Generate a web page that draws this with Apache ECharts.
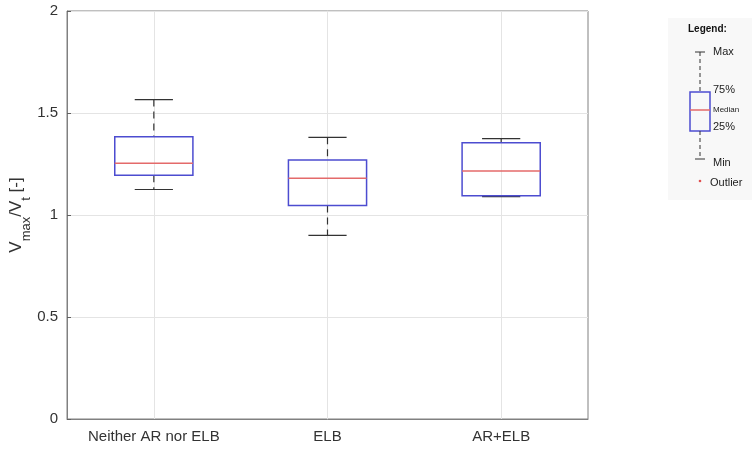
<!DOCTYPE html>
<html>
<head>
<meta charset="utf-8">
<script src="https://cdn.jsdelivr.net/npm/echarts@6/dist/echarts.min.js"></script>
<style>html,body{margin:0;padding:0;background:#fff}#c{width:752px;height:450px}</style>
</head>
<body>
<div id="c"></div>
<script>
const categories = ['Neither AR nor ELB', 'ELB', 'AR+ELB'];
// [min, q1, median, q3, max]
const mins    = [1.125, 0.900, 1.090];
const q1s     = [1.195, 1.047, 1.094];
const medians = [1.254, 1.180, 1.216];
const q3s     = [1.384, 1.270, 1.354];
const maxs    = [1.566, 1.381, 1.374];
const yTicks = [0, 0.5, 1, 1.5, 2];

const data = categories.map((c, i) => [i, mins[i], q1s[i], medians[i], q3s[i], maxs[i]]);

const BOX = '#4c4cd0', MED = '#e46a6a', WH = '#333333';
const font = 'Liberation Sans, Arial, sans-serif';

function renderItem(params, api) {
  const x = api.value(0);
  const pMin = api.coord([x, api.value(1)]);
  const pQ1 = api.coord([x, api.value(2)]);
  const pMed = api.coord([x, api.value(3)]);
  const pQ3 = api.coord([x, api.value(4)]);
  const pMax = api.coord([x, api.value(5)]);
  const band = api.size([1, 0])[0];
  const bw = band * 0.45, cw = band * 0.22;
  const cx = pMed[0];
  return {
    type: 'group',
    children: [
      {type: 'line', shape: {x1: cx, y1: pMax[1], x2: cx, y2: pQ3[1]}, style: {stroke: WH, lineWidth: 1.2, lineDash: [7, 5]}},
      {type: 'line', shape: {x1: cx, y1: pQ1[1], x2: cx, y2: pMin[1]}, style: {stroke: WH, lineWidth: 1.2, lineDash: [7, 5]}},
      {type: 'line', shape: {x1: cx - cw / 2, y1: pMax[1], x2: cx + cw / 2, y2: pMax[1]}, style: {stroke: WH, lineWidth: 1.2}},
      {type: 'line', shape: {x1: cx - cw / 2, y1: pMin[1], x2: cx + cw / 2, y2: pMin[1]}, style: {stroke: WH, lineWidth: 1.2}},
      {type: 'rect', shape: {x: cx - bw / 2, y: pQ3[1], width: bw, height: pQ1[1] - pQ3[1]}, style: {fill: 'none', stroke: BOX, lineWidth: 1.5}},
      {type: 'line', shape: {x1: cx - bw / 2, y1: pMed[1], x2: cx + bw / 2, y2: pMed[1]}, style: {stroke: MED, lineWidth: 1.5}}
    ]
  };
}

const chart = echarts.init(document.getElementById('c'), null, {renderer: 'canvas'});
const lx = 700;
chart.setOption({
  animation: false,
  grid: {left: 67, right: 164, top: 11, bottom: 31, show: true, borderColor: '#808080', borderWidth: 1,
         backgroundColor: 'transparent', containLabel: false, outerBoundsMode: 'none'},
  xAxis: {
    type: 'category', data: categories, boundaryGap: true,
    axisLine: {lineStyle: {color: '#808080'}},
    axisTick: {inside: true, alignWithLabel: true, length: 4, lineStyle: {color: '#606060'}},
    axisLabel: {color: '#333', fontSize: 15, fontFamily: font, margin: 10},
    splitLine: {show: true, alignWithLabel: true, lineStyle: {color: '#e4e4e4'}}
  },
  yAxis: {
    type: 'value', min: 0, max: 2, interval: 0.5,
    axisLine: {show: true, lineStyle: {color: '#808080'}},
    axisTick: {show: true, inside: true, length: 4, lineStyle: {color: '#606060'}},
    axisLabel: {color: '#333', fontSize: 15, fontFamily: font, margin: 9,
      formatter: v => { const t = yTicks.find(k => Math.abs(k - v) < 1e-9); return t === undefined ? '' : String(t); }},
    splitLine: {show: true, lineStyle: {color: '#e4e4e4'}},
    name: '{a|V}{s|max}{a|/V}{s|t}{a| [-]}',
    nameLocation: 'middle', nameGap: 34, nameRotate: 90, nameMoveOverlap: false,
    nameTextStyle: {
      rich: {
        a: {fontSize: 17, fontFamily: font, color: '#333', verticalAlign: 'top', lineHeight: 25},
        s: {fontSize: 13, fontFamily: font, color: '#333', verticalAlign: 'bottom', lineHeight: 25}
      }
    }
  },
  series: [{
    type: 'custom', renderItem: renderItem, data: data,
    encode: {x: 0, y: [1, 2, 3, 4, 5]}, z: 5
  }],
  graphic: [
    {type: 'rect', shape: {x: 668, y: 18, width: 84, height: 182}, style: {fill: '#f8f8f8'}, silent: true},
    {type: 'text', x: 688, y: 29, style: {text: 'Legend:', font: 'bold 10px ' + font, fill: '#111', textVerticalAlign: 'middle'}},
    {type: 'line', shape: {x1: lx - 5, y1: 52, x2: lx + 5, y2: 52}, style: {stroke: WH, lineWidth: 1}},
    {type: 'line', shape: {x1: lx, y1: 52, x2: lx, y2: 92}, style: {stroke: WH, lineWidth: 1, lineDash: [4, 3]}},
    {type: 'rect', shape: {x: lx - 10, y: 92, width: 20, height: 39}, style: {fill: 'none', stroke: BOX, lineWidth: 1.5}},
    {type: 'line', shape: {x1: lx - 10, y1: 110, x2: lx + 10, y2: 110}, style: {stroke: MED, lineWidth: 1.5}},
    {type: 'line', shape: {x1: lx, y1: 131, x2: lx, y2: 159}, style: {stroke: WH, lineWidth: 1, lineDash: [4, 3]}},
    {type: 'line', shape: {x1: lx - 5, y1: 159, x2: lx + 5, y2: 159}, style: {stroke: WH, lineWidth: 1}},
    {type: 'circle', shape: {cx: lx, cy: 181, r: 1.3}, style: {fill: '#e05050'}},
    {type: 'text', x: 713, y: 52, style: {text: 'Max', font: '11px ' + font, fill: '#222', textVerticalAlign: 'middle'}},
    {type: 'text', x: 713, y: 90, style: {text: '75%', font: '11px ' + font, fill: '#222', textVerticalAlign: 'middle'}},
    {type: 'text', x: 713, y: 110, style: {text: 'Median', font: '8px ' + font, fill: '#222', textVerticalAlign: 'middle'}},
    {type: 'text', x: 713, y: 127, style: {text: '25%', font: '11px ' + font, fill: '#222', textVerticalAlign: 'middle'}},
    {type: 'text', x: 713, y: 163, style: {text: 'Min', font: '11px ' + font, fill: '#222', textVerticalAlign: 'middle'}},
    {type: 'text', x: 710, y: 183, style: {text: 'Outlier', font: '11px ' + font, fill: '#222', textVerticalAlign: 'middle'}}
  ]
});
</script>
</body>
</html>
